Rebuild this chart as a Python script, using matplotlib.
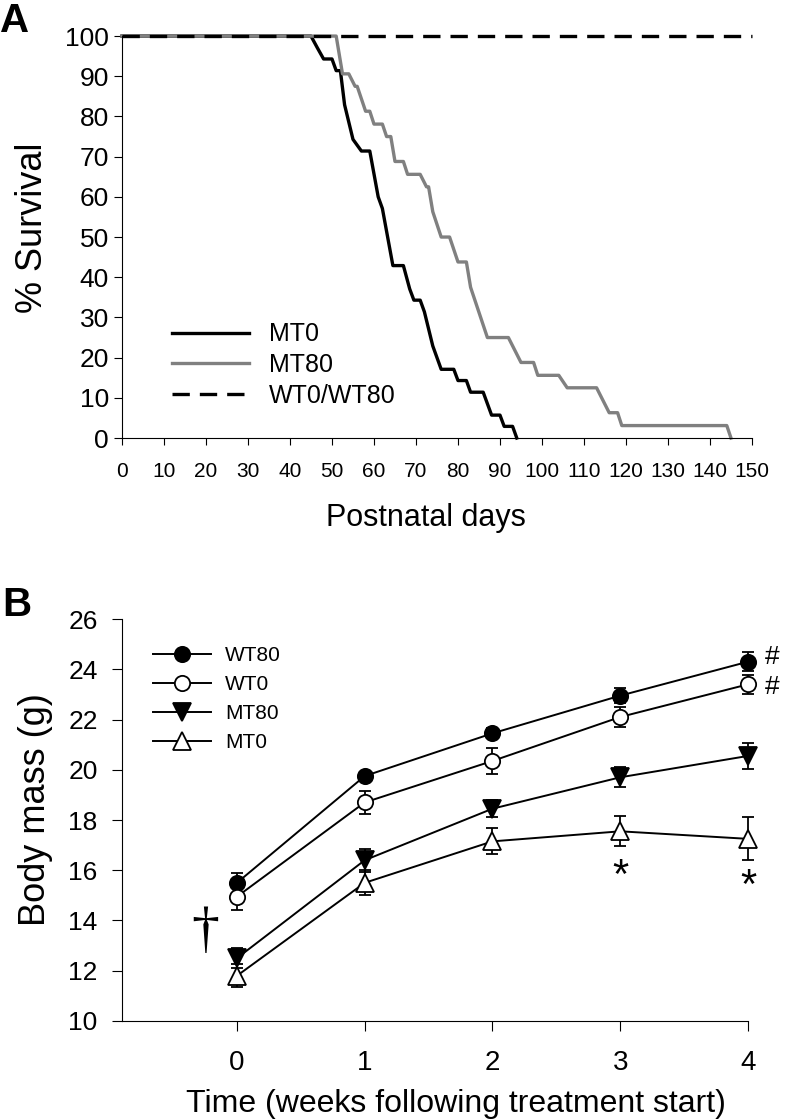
import matplotlib.pyplot as plt
from matplotlib.lines import Line2D

plt.rcParams['font.family'] = ['Liberation Sans', 'DejaVu Sans']

# panel A: survival curves (postnatal day, % survival)
mt0_days = [0, 45, 46.5, 48, 50, 51, 52, 53, 55, 57, 59, 61, 62, 64.5, 67, 68.5,
            69.5, 71, 72, 74, 76, 79, 80, 82, 83, 86, 88, 90, 91, 93, 94]
mt0_surv = [100, 100, 97.1, 94.3, 94.3, 91.4, 91.4, 82.9, 74.3, 71.4, 71.4, 60, 57.1, 42.9, 42.9, 37.1,
            34.3, 34.3, 31.4, 22.9, 17.1, 17.1, 14.3, 14.3, 11.4, 11.4, 5.7, 5.7, 2.9, 2.9, 0]
mt80_days = [0, 51, 52.5, 54, 55.5, 56, 58, 59, 60, 62, 63, 64, 65, 67, 68, 71, 72.5, 73,
             74, 76, 78, 80, 82, 83, 87, 92, 93.5, 95, 98, 99, 104, 106, 113, 114.5, 116,
             118, 119, 144, 145]
mt80_surv = [100, 100, 90.6, 90.6, 87.5, 87.5, 81.3, 81.3, 78.1, 78.1, 75, 75, 68.8, 68.8, 65.6, 65.6, 62.5, 62.5,
             56.3, 50, 50, 43.8, 43.8, 37.5, 25, 25, 21.9, 18.8, 18.8, 15.6, 15.6, 12.5, 12.5, 9.4, 6.3,
             6.3, 3.1, 3.1, 0]
wt_days = [0, 150]
wt_surv = [100, 100]

# panel B: body mass (g), mean and SEM
weeks = [0, 1, 2, 3, 4]
wt80 = [15.5, 19.75, 21.45, 22.95, 24.3]
wt80_err = [0.4, 0.15, 0.2, 0.3, 0.38]
wt0 = [14.95, 18.7, 20.35, 22.1, 23.4]
wt0_err = [0.55, 0.45, 0.5, 0.4, 0.38]
mt80 = [12.5, 16.4, 18.45, 19.7, 20.55]
mt80_err = [0.4, 0.45, 0.35, 0.4, 0.5]
mt0 = [11.8, 15.5, 17.15, 17.55, 17.25]
mt0_err = [0.45, 0.5, 0.52, 0.6, 0.85]

fig = plt.figure(figsize=(7.88, 11.2), dpi=100)

# ---- A ----
ax1 = fig.add_axes([0.1548, 0.6089, 0.7995, 0.3589])
l1, = ax1.plot(mt0_days, mt0_surv, color='black', lw=2.4, label='MT0', clip_on=False)
l2, = ax1.plot(mt80_days, mt80_surv, color='#808080', lw=2.4, label='MT80', clip_on=False)
l3, = ax1.plot(wt_days, wt_surv, color='black', lw=2.4, ls=(0, (5.2, 3.0)), label='WT0/WT80', clip_on=False)
ax1.set_xlim(0, 150)
ax1.set_ylim(0, 100)
ax1.set_xticks(range(0, 151, 10))
ax1.set_yticks(range(0, 101, 10))
for s in ['top', 'right']:
    ax1.spines[s].set_visible(False)
ax1.tick_params(axis='x', direction='out', length=5, pad=12.5, labelsize=15)
ax1.tick_params(axis='y', direction='out', length=6, pad=3.5, labelsize=19)
ax1.set_xlabel('Postnatal days', fontsize=22)
ax1.xaxis.set_label_coords(0.483, -0.162)
ax1.set_ylabel('% Survival', fontsize=26)
ax1.yaxis.set_label_coords(-0.115, 0.522)
ax1.legend(handles=[l1, l2, l3], loc='upper left', bbox_to_anchor=(0.079, 0.288),
           frameon=False, fontsize=18, handlelength=3.1, handletextpad=0.8,
           labelspacing=0.27, borderpad=0, borderaxespad=0)
fig.text(0.0, 0.981, 'A', fontsize=29, fontweight='bold', va='center')

# ---- B ----
ax2 = fig.add_axes([0.1548, 0.0884, 0.7944, 0.3589])
series = [
    (wt80, wt80_err, 'o', 'black', 'WT80'),
    (wt0, wt0_err, 'o', 'white', 'WT0'),
    (mt80, mt80_err, 'v', 'black', 'MT80'),
    (mt0, mt0_err, '^', 'white', 'MT0'),
]
handles = []
for vals, err, mk, fc, lab in series:
    ms = 11 if mk == 'o' else 12.5
    ax2.errorbar(weeks, vals, yerr=err, fmt='none', ecolor='black', elinewidth=1.3,
                 capsize=4.5, capthick=1.3, clip_on=False, zorder=2)
    ax2.plot(weeks, vals, color='black', lw=1.4, marker=mk, markersize=ms,
             markerfacecolor=fc, markeredgecolor='black', markeredgewidth=1.3,
             clip_on=False, zorder=3)
    handles.append(Line2D([], [], color='black', lw=1.4, marker=mk, markersize=ms,
                          markerfacecolor=fc, markeredgecolor='black', markeredgewidth=1.3, label=lab))
ax2.set_xlim(-0.9, 4)
ax2.set_ylim(10, 26)
ax2.set_xticks(weeks)
ax2.set_yticks(range(10, 27, 2))
for s in ['top', 'right']:
    ax2.spines[s].set_visible(False)
ax2.tick_params(axis='x', direction='out', length=7, pad=14, labelsize=20)
ax2.tick_params(axis='y', direction='out', length=7, pad=10.5, labelsize=19)
ax2.set_xlabel('Time (weeks following treatment start)', fontsize=23)
ax2.xaxis.set_label_coords(0.534, -0.168)
ax2.set_ylabel('Body mass (g)', fontsize=26)
ax2.yaxis.set_label_coords(-0.11, 0.525)
ax2.legend(handles=handles, loc='upper left', bbox_to_anchor=(0.05, 0.932),
           frameon=False, fontsize=15, handlelength=2.75, handletextpad=0.7,
           labelspacing=0.48, borderpad=0, borderaxespad=0)
ax2.text(3, 15.75, '*', fontsize=30, ha='center', va='center')
ax2.text(4, 15.35, '*', fontsize=30, ha='center', va='center')
ax2.text(4.13, 24.5, '#', fontsize=19, ha='left', va='center')
ax2.text(4.13, 23.3, '#', fontsize=19, ha='left', va='center')
ax2.text(-0.25, 13.55, '\u2020', fontsize=40, ha='center', va='center', family='Liberation Serif')
fig.text(0.003, 0.46, 'B', fontsize=29, fontweight='bold', va='center')

fig.savefig('out.png', dpi=100)
